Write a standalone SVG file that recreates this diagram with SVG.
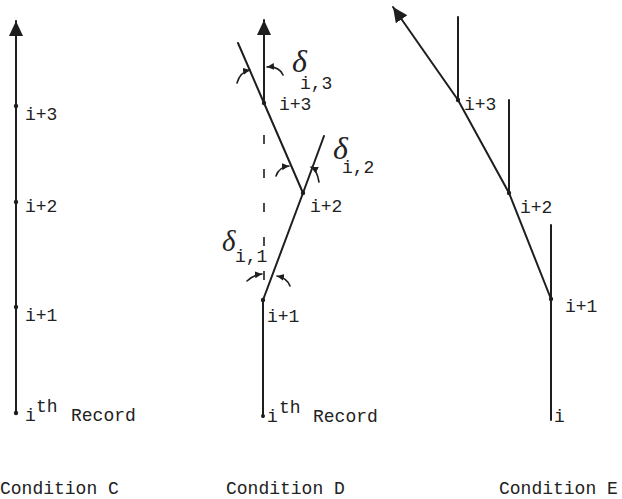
<svg xmlns="http://www.w3.org/2000/svg" width="622" height="499" viewBox="0 0 622 499">
<style>
.ln{stroke:#1e1e1e;stroke-width:2;fill:none;stroke-linecap:round}
.thin{stroke:#1e1e1e;stroke-width:1.6;fill:none;stroke-linecap:round}
.dash{stroke:#1e1e1e;stroke-width:1.6;fill:none;stroke-dasharray:9 25}
.dot{fill:#1e1e1e}
.t{font-family:"Liberation Mono","Courier New",monospace;font-size:18px;fill:#222}
.d{font-family:"Liberation Serif","Times New Roman",serif;font-style:italic;font-size:32px;fill:#222}
</style>
<defs>
<marker id="big" markerUnits="userSpaceOnUse" markerWidth="16" markerHeight="16" refX="15" refY="7" orient="auto">
<path d="M0,0 L15,7 L0,14 z" fill="#1e1e1e"/>
</marker>
<marker id="small" markerUnits="userSpaceOnUse" markerWidth="8" markerHeight="8" refX="7" refY="3.5" orient="auto">
<path d="M0,0 L7,3.5 L0,7 z" fill="#1e1e1e"/>
</marker>
</defs>
<g id="connectors">
<path class="ln" d="M16,413 L16,21" marker-end="url(#big)"/>
<path class="ln" d="M263,417 L263,300"/>
<path class="ln" d="M264,103 L264,20" marker-end="url(#big)"/>
<path class="dash" d="M264,135 L264,290"/>
<path class="ln" d="M263,300 L303,193 L324,136"/>
<path class="ln" d="M303,193 L264,103 L238,43"/>
<path class="thin" d="M237,83 Q240,72 250,70" marker-end="url(#small)"/>
<path class="thin" d="M283,75 Q279,66 267,67" marker-end="url(#small)"/>
<path class="thin" d="M276,176 Q279,167 289,166" marker-end="url(#small)"/>
<path class="thin" d="M319,182 Q317,170 311,167" marker-end="url(#small)"/>
<path class="thin" d="M247,281 Q253,275 262,274" marker-end="url(#small)"/>
<path class="thin" d="M290,286 Q287,278 277,276" marker-end="url(#small)"/>
<path class="ln" d="M551,420 L551,225"/>
<path class="ln" d="M509,193 L509,100"/>
<path class="ln" d="M458,100 L458,17"/>
<path class="ln" d="M551,299 L509,193 L458,100 L393,7" marker-end="url(#big)"/>
</g>
<g id="condition-c">
<g id="c-i"><circle class="dot" cx="16" cy="413" r="2.2"/><text class="t" x="25" y="421">i</text><text class="t" x="36" y="412">th</text><text class="t" x="71" y="421">Record</text></g>
<g id="c-i1"><circle class="dot" cx="16" cy="307" r="2.2"/><text class="t" x="25" y="321">i+1</text></g>
<g id="c-i2"><circle class="dot" cx="16" cy="202" r="2.2"/><text class="t" x="25" y="212">i+2</text></g>
<g id="c-i3"><circle class="dot" cx="16" cy="106" r="2.2"/><text class="t" x="25" y="120">i+3</text></g>
<text class="t" x="0" y="494">Condition C</text>
</g>
<g id="condition-d">
<g id="d-i"><circle class="dot" cx="263" cy="416" r="2"/><text class="t" x="267" y="422">i</text><text class="t" x="279" y="413">th</text><text class="t" x="313" y="422">Record</text></g>
<g id="d-i1"><circle class="dot" cx="263" cy="300" r="2.2"/><text class="t" x="267" y="322">i+1</text></g>
<g id="d-i2"><circle class="dot" cx="303" cy="193" r="2.2"/><text class="t" x="310" y="212">i+2</text></g>
<g id="d-i3"><circle class="dot" cx="264" cy="103" r="2.2"/><text class="t" x="279" y="110">i+3</text></g>
<g id="delta-i3"><text class="d" x="292" y="72">δ</text><text class="t" x="300" y="89">i,3</text></g>
<g id="delta-i2"><text class="d" x="333" y="159">δ</text><text class="t" x="342" y="173">i,2</text></g>
<g id="delta-i1"><text class="d" x="222" y="251" style="font-size:29px">δ</text><text class="t" x="235" y="262">i,1</text></g>
<text class="t" x="226" y="494">Condition D</text>
</g>
<g id="condition-e">
<g id="e-i"><text class="t" x="554" y="422">i</text></g>
<g id="e-i1"><circle class="dot" cx="551" cy="299" r="2.2"/><text class="t" x="565" y="312">i+1</text></g>
<g id="e-i2"><circle class="dot" cx="509" cy="193" r="2.2"/><text class="t" x="520" y="213">i+2</text></g>
<g id="e-i3"><circle class="dot" cx="458" cy="100" r="2.2"/><text class="t" x="464" y="110">i+3</text></g>
<text class="t" x="499" y="494">Condition E</text>
</g>
</svg>
